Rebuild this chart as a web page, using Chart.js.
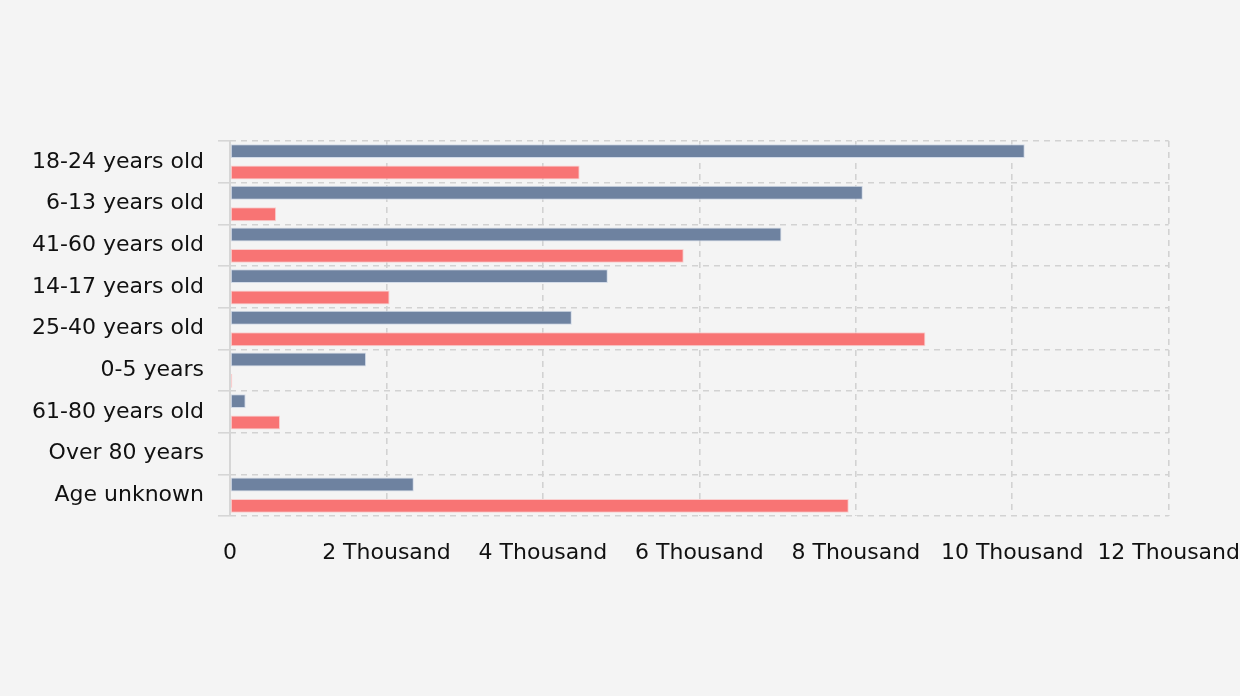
<!DOCTYPE html>
<html>
<head>
<meta charset="utf-8">
<script src="https://cdn.jsdelivr.net/npm/chart.js@4.4.0/dist/chart.umd.min.js"></script>
<style>
html,body{margin:0;padding:0;background:#f4f4f4;}
#wrap{width:1240px;height:696px;}
</style>
</head>
<body>
<div id="wrap"><canvas id="c" width="1240" height="696"></canvas></div>
<script>
const categories = ["18-24 years old","6-13 years old","41-60 years old","14-17 years old","25-40 years old","0-5 years","61-80 years old","Over 80 years","Age unknown"];
const seriesA = [10160, 8090, 7050, 4830, 4370, 1740, 200, 0, 2350];
const seriesB = [4470, 590, 5800, 2040, 8890, 30, 640, 0, 7910];
const xTicks = [0, 2000, 4000, 6000, 8000, 10000, 12000];

const font = {family: "'DejaVu Sans', Verdana, sans-serif", size: 22};
const gridColor = '#d2d2d2';
new Chart(document.getElementById('c'), {
  type: 'bar',
  data: {
    labels: categories,
    datasets: [
      {label: 'Series A', data: seriesA, backgroundColor: '#6e82a0', borderColor: '#d3dbe8', borderWidth: 1, borderSkipped: false, categoryPercentage: 1.03, barPercentage: 0.65},
      {label: 'Series B', data: seriesB, backgroundColor: '#f87474', borderColor: '#f9cfcf', borderWidth: 1, borderSkipped: false, categoryPercentage: 1.03, barPercentage: 0.65}
    ]
  },
  options: {
    indexAxis: 'y',
    responsive: false,
    animation: false,
    layout: {padding: {top: 141, left: 31, right: 0, bottom: 130}},
    plugins: {legend: {display: false}, tooltip: {enabled: false}},
    scales: {
      x: {
        min: 0, max: 12000,
        afterBuildTicks: s => { s.ticks = xTicks.map(v => ({value: v})); },
        afterFit: s => { s.height = 50; },
        ticks: {font: font, color: '#111', padding: 0, maxRotation: 0, callback: v => v === 0 ? '0' : (v/1000) + ' Thousand'},
        grid: {color: gridColor, lineWidth: 1.6, drawTicks: true, tickLength: 24, tickColor: 'rgba(0,0,0,0)'},
        border: {display: false, dash: [6, 5]}
      },
      y: {
        afterFit: s => { s.width = 199; },
        ticks: {font: font, color: '#111', padding: 14},
        grid: {color: gridColor, lineWidth: 1.6, tickLength: 12, tickBorderDash: [], tickColor: '#d6d6d6'},
        border: {display: false, dash: [6, 5]}
      }
    }
  },
  plugins: [{
    id: 'axisLine',
    afterDraw(chart) {
      const ctx = chart.ctx, a = chart.chartArea;
      ctx.save();
      ctx.strokeStyle = '#d6d6d6';
      ctx.lineWidth = 2;
      ctx.beginPath();
      ctx.moveTo(a.left, a.top);
      ctx.lineTo(a.left, a.bottom);
      ctx.stroke();
      ctx.restore();
    }
  }]
});
</script>
</body>
</html>
